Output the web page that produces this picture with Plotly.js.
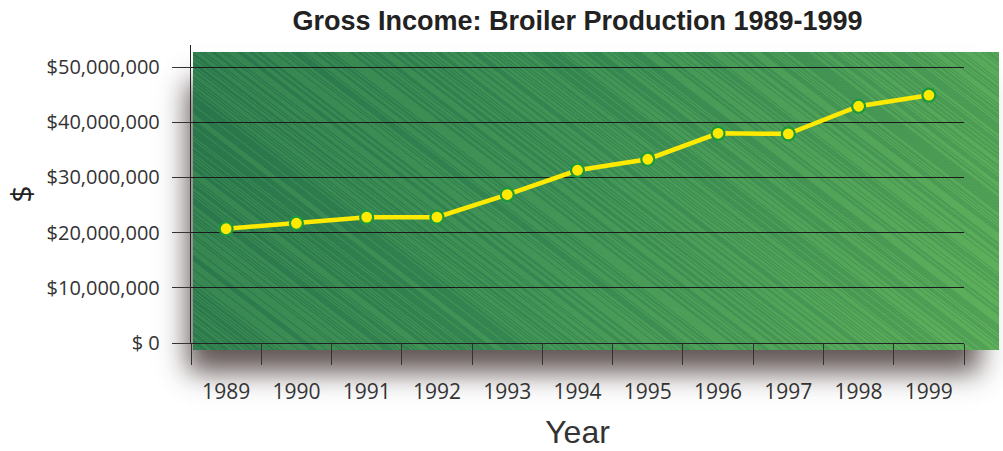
<!DOCTYPE html>
<html><head><meta charset="utf-8">
<script src="https://cdn.plot.ly/plotly-3.0.1.min.js"></script>
<style>html,body{margin:0;padding:0;background:#fff}#chart{width:1003px;height:451px}</style>
</head><body><div id="chart"></div>
<script>
// ---- data ----
const years = ["1989","1990","1991","1992","1993","1994","1995","1996","1997","1998","1999"];
const grossIncome = [20700000, 21700000, 22800000, 22800000, 26900000, 31300000, 33300000, 38000000, 37900000, 42900000, 44900000];
const yTickValues = [0, 10000000, 20000000, 30000000, 40000000, 50000000];
const yTickLabels = ["$ 0", "$10,000,000", "$20,000,000", "$30,000,000", "$40,000,000", "$50,000,000"];

// ---- layout geometry ----
const W = 1003, H = 451;
const M = {l: 191, r: 39, t: 45, b: 108};
const pw = W - M.l - M.r, ph = H - M.t - M.b;

// ---- background texture (decoration only) ----
function makeBackground() {
  const c = document.createElement('canvas');
  c.width = W; c.height = H;
  const g = c.getContext('2d');
  g.fillStyle = '#ffffff'; g.fillRect(0, 0, W, H);
  // soft shadow
  g.save();
  g.shadowColor = 'rgba(70,55,55,0.85)';
  g.shadowBlur = 26; g.shadowOffsetX = -12; g.shadowOffsetY = 24;
  g.fillStyle = '#3a8a4c';
  g.fillRect(200, 58, 792, 290);
  g.restore();
  // green gradient
  const grd = g.createLinearGradient(196, 54, 996, 348);
  grd.addColorStop(0, '#2c7b4c');
  grd.addColorStop(0.45, '#3a8e52');
  grd.addColorStop(1, '#5cae58');
  g.fillStyle = grd;
  g.fillRect(193, 52, 806, 298);
  // diagonal hatching strokes
  g.save();
  g.beginPath(); g.rect(193, 52, 806, 298); g.clip();
  for (let i = -400; i < 1100; i += 2) {
    const k = Math.sin(i * 12.9898) * 43758.5453;
    const f = k - Math.floor(k);
    g.strokeStyle = f > 0.5 ? 'rgba(130,200,120,0.18)' : 'rgba(20,80,80,0.18)';
    g.lineWidth = 1;
    g.beginPath(); g.moveTo(i, 40); g.lineTo(i + 420, 360); g.stroke();
  }
  g.restore();
  return c.toDataURL('image/png');
}

const trace = {
  x: years, y: grossIncome, type: 'scatter', mode: 'lines+markers',
  line: {color: '#ffea00', width: 4.5},
  marker: {color: '#ffea00', size: 13, line: {color: '#1c9a3c', width: 2.2}},
  hoverinfo: 'x+y'
};

const layout = {
  width: W, height: H,
  margin: M,
  paper_bgcolor: '#ffffff', plot_bgcolor: 'rgba(0,0,0,0)',
  showlegend: false,
  title: {text: '<b>Gross Income: Broiler Production 1989-1999</b>',
          font: {family: 'Liberation Sans Narrow, Arial Narrow, sans-serif', size: 27, color: '#222'},
          x: 0.5, xref: 'paper', y: 1 - 21 / H, yanchor: 'middle'},
  xaxis: {
    type: 'category', range: [-0.5, 10.5], tickson: 'boundaries',
    showline: true, linecolor: '#222', linewidth: 1.2,
    ticks: 'outside', ticklen: 21, tickcolor: '#333', tickwidth: 1,
    showgrid: false, zeroline: false,
    tickfont: {family: 'Open Sans, sans-serif', size: 21, color: '#333'},
    ticklabelstandoff: 30,
    title: {text: 'Year', font: {family: 'Liberation Sans Narrow, Arial Narrow, sans-serif', size: 32, color: '#333'}, standoff: 16}
  },
  yaxis: {
    range: [0, 54000000], tickvals: yTickValues, ticktext: yTickLabels,
    showline: true, linecolor: '#222', linewidth: 1.2,
    ticks: 'outside', ticklen: 18, tickcolor: '#333', tickwidth: 1,
    showgrid: true, gridcolor: '#1a1a1a', gridwidth: 1, zeroline: false,
    tickfont: {family: 'Open Sans, sans-serif', size: 20, color: '#333'},
    ticklabelstandoff: 8,
    title: {text: '$', font: {family: 'Open Sans, sans-serif', size: 30, color: '#222'}, standoff: 12}
  },
  images: [{
    source: makeBackground(), xref: 'paper', yref: 'paper',
    x: -M.l / pw, y: 1 + M.t / ph, sizex: W / pw, sizey: H / ph,
    xanchor: 'left', yanchor: 'top', sizing: 'stretch', layer: 'below'
  }]
};

Plotly.newPlot('chart', [trace], layout, {displayModeBar: false, staticPlot: true});
</script></body></html>
